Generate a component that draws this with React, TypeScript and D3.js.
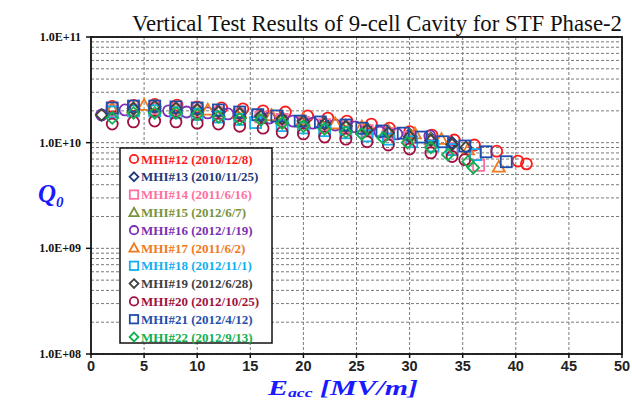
import React from "react";
import * as d3 from "d3";

// Accelerating gradient (MV/m) and Q0 (in units of 1e10) for each cavity
const e12 = [2, 4, 6, 8.1, 10, 12.3, 14.3, 16.2, 18.3, 20.4, 22.3, 24.1, 26.4, 28.1, 30, 32.1, 34.2, 36.1, 38.2, 40.2, 41];
const q12 = [2.2, 2.25, 2.3, 2.27, 2.18, 2.13, 2.09, 2.0, 1.95, 1.79, 1.71, 1.6, 1.5, 1.37, 1.27, 1.18, 1.06, 0.95, 0.83, 0.67, 0.63];

const e13 = [2, 4, 6, 8, 10, 12, 14, 16, 18, 20, 22, 24, 26, 28, 30, 32, 34];
const q13 = [2.05, 2.1, 2.12, 2.08, 2.05, 1.98, 1.9, 1.82, 1.72, 1.62, 1.55, 1.45, 1.36, 1.28, 1.2, 1.1, 1.0];

const e14 = [2, 4, 6, 8, 10, 12, 14, 16, 18, 20, 22, 24, 26, 28, 30, 32, 34, 36.5];
const q14 = [2.0, 2.05, 2.1, 2.05, 2.0, 1.92, 1.85, 1.75, 1.66, 1.56, 1.48, 1.4, 1.3, 1.22, 1.12, 1.02, 0.88, 0.61];

const e15 = [2, 4, 6, 8, 10, 12, 14, 16, 18, 20, 22, 24, 26, 28, 30, 32];
const q15 = [2.1, 2.15, 2.2, 2.12, 2.06, 1.98, 1.9, 1.8, 1.7, 1.6, 1.52, 1.43, 1.35, 1.26, 1.18, 1.08];

const e16 = [1, 3.2, 7.3, 9, 11, 12.9, 16.8, 19, 20.9, 23, 24.9, 27.2, 28.8, 31.9];
const q16 = [1.83, 2.04, 2.0, 1.95, 1.91, 1.87, 1.71, 1.6, 1.53, 1.47, 1.41, 1.26, 1.21, 1.16];

const e17 = [2, 5, 8, 11, 14, 17, 20, 23, 25.5, 28, 30.5, 33, 35.5, 38.4];
const q17 = [2.1, 2.27, 2.15, 2.05, 1.95, 1.82, 1.66, 1.52, 1.42, 1.3, 1.22, 1.08, 0.86, 0.59];

const e18 = [2, 4, 6, 8, 10, 12, 14, 15.5, 18, 20, 22, 24, 26, 28, 30.2, 32.2, 34, 36.2];
const q18 = [1.95, 2.0, 2.0, 1.92, 1.85, 1.75, 1.66, 1.55, 1.45, 1.38, 1.3, 1.24, 1.16, 1.08, 1.02, 0.93, 0.86, 0.77];

const e19 = [1, 4, 6, 8, 10, 12, 14, 16, 18, 20, 22, 24, 26, 28, 30, 32, 34, 35.3];
const q19 = [1.83, 2.1, 2.2, 2.12, 2.05, 1.96, 1.88, 1.78, 1.68, 1.58, 1.5, 1.42, 1.32, 1.24, 1.14, 1.05, 0.96, 0.9];

const e20 = [2, 4, 6, 8, 10, 12, 14, 16.2, 18, 20, 22, 24, 26, 28, 30, 32, 34, 35.2];
const q20 = [1.5, 1.57, 1.6, 1.57, 1.53, 1.5, 1.43, 1.37, 1.25, 1.21, 1.13, 1.08, 1.02, 0.95, 0.87, 0.8, 0.74, 0.69];

const e21 = [2, 4, 6, 8, 10, 12, 14, 15.7, 17.5, 19.7, 21.6, 24, 25.5, 27.4, 29.4, 31.1, 33.1, 35.2, 37.2, 39.1];
const q21 = [2.13, 2.22, 2.22, 2.18, 2.13, 2.04, 1.95, 1.84, 1.79, 1.6, 1.57, 1.47, 1.37, 1.29, 1.23, 1.13, 1.02, 0.93, 0.82, 0.66];

const e22 = [2, 4, 6, 8, 10, 12, 14, 16, 18, 20, 22, 24, 25.5, 27.5, 29.8, 32, 33.6, 35.5, 36];
const q22 = [1.71, 1.91, 1.91, 1.91, 1.84, 1.75, 1.68, 1.64, 1.53, 1.43, 1.35, 1.26, 1.21, 1.11, 1.0, 0.9, 0.77, 0.66, 0.58];

const labels = [
  "MHI#12 (2010/12/8)",
  "MHI#13 (2010/11/25)",
  "MHI#14 (2011/6/16)",
  "MHI#15 (2012/6/7)",
  "MHI#16 (2012/1/19)",
  "MHI#17 (2011/6/2)",
  "MHI#18 (2012/11/1)",
  "MHI#19 (2012/6/28)",
  "MHI#20 (2012/10/25)",
  "MHI#21 (2012/4/12)",
  "MHI#22 (2012/9/13)",
];
const colors = ["#ff1a1a", "#1f3a7a", "#ff6fa0", "#77933c", "#7a30b0", "#f07a20", "#12b0f0", "#404040", "#a01040", "#1f4eaa", "#10b050"];
const shapes = ["circle", "diamond", "square", "triangle", "circle", "triangle", "square", "diamond", "circle", "square", "diamond"];
const allE = [e12, e13, e14, e15, e16, e17, e18, e19, e20, e21, e22];
const allQ = [q12, q13, q14, q15, q16, q17, q18, q19, q20, q21, q22];

const xTicks = [0, 5, 10, 15, 20, 25, 30, 35, 40, 45, 50];
const yDecades = [1e8, 1e9, 1e10, 1e11];
const yTickLabels = ["1.0E+08", "1.0E+09", "1.0E+10", "1.0E+11"];

const W = 632;
const H = 401;
const plot = { left: 91, right: 622, top: 37, bottom: 354 };

function Marker({ shape, x, y, color, s = 5 }: { shape: string; x: number; y: number; color: string; s?: number }) {
  const common = { fill: "none", stroke: color, strokeWidth: 1.8 };
  if (shape === "circle") return <circle cx={x} cy={y} r={s} {...common} />;
  if (shape === "square") return <rect x={x - s} y={y - s} width={2 * s} height={2 * s} {...common} />;
  if (shape === "diamond") {
    const d = s * 1.05;
    return <path d={`M${x},${y - d}L${x + d},${y}L${x},${y + d}L${x - d},${y}Z`} {...common} />;
  }
  const t = s * 1.1;
  return <path d={`M${x},${y - t}L${x + t},${y + t * 0.8}L${x - t},${y + t * 0.8}Z`} {...common} />;
}

export default function App() {
  const x = d3.scaleLinear().domain([0, 50]).range([plot.left, plot.right]);
  const y = d3.scaleLog().domain([1e8, 1e11]).range([plot.bottom, plot.top]);

  const gridY: number[] = [];
  for (let d = 8; d <= 10; d++) {
    for (let k = 1; k <= 9; k++) gridY.push(k * Math.pow(10, d));
  }
  gridY.push(1e11);

  const legendX = 120;
  const legendY = 148;
  const rowH = 17.8;

  return (
    <svg width={W} height={H} style={{ position: "absolute", left: 0, top: 0, background: "#fff" }}>
      <rect x={0} y={0} width={W} height={H} fill="#fff" />
      {/* grid */}
      {gridY.map((v, i) => (
        <line key={"gy" + i} x1={plot.left} x2={plot.right} y1={y(v)} y2={y(v)} stroke="#7a7a7a" strokeWidth={1} strokeDasharray="3,2" />
      ))}
      {xTicks.slice(1, -1).map((t) => (
        <line key={"gx" + t} x1={x(t)} x2={x(t)} y1={plot.top} y2={plot.bottom} stroke="#7a7a7a" strokeWidth={1} strokeDasharray="3,2" />
      ))}
      {/* data */}
      {allE.map((es, si) =>
        es.map((e, i) => (
          <Marker key={si + "-" + i} shape={shapes[si]} x={x(e)} y={y(allQ[si][i] * 1e10)} color={colors[si]} s={5.5} />
        ))
      )}
      {/* frame */}
      <rect x={plot.left} y={plot.top} width={plot.right - plot.left} height={plot.bottom - plot.top} fill="none" stroke="#111" strokeWidth={1.8} />
      {yDecades.map((v) => (
        <line key={"yt" + v} x1={plot.left - 5} x2={plot.left} y1={y(v)} y2={y(v)} stroke="#111" strokeWidth={1.5} />
      ))}
      {xTicks.map((t) => (
        <line key={"xt" + t} x1={x(t)} x2={x(t)} y1={plot.bottom} y2={plot.bottom + 4} stroke="#111" strokeWidth={1.5} />
      ))}
      {/* y tick labels */}
      {yDecades.map((v, i) => (
        <text key={"yl" + v} x={plot.left - 10} y={y(v) + 4} textAnchor="end" fontFamily="Liberation Serif, serif" fontWeight="bold" fontSize={12} fill="#111">
          {yTickLabels[i]}
        </text>
      ))}
      {/* x tick labels */}
      {xTicks.map((t) => (
        <text key={"xl" + t} x={x(t)} y={371} textAnchor="middle" fontFamily="Liberation Sans, Arial, sans-serif" fontWeight="bold" fontSize={14.5} fill="#222">
          {t}
        </text>
      ))}
      {/* title */}
      <text x={132} y={31} fontFamily="Liberation Serif, serif" fontSize={23} fill="#111" textLength={490} lengthAdjust="spacingAndGlyphs">
        Vertical Test Results of 9-cell Cavity for STF Phase-2
      </text>
      {/* axis titles */}
      <text x={38} y={202} fontFamily="Liberation Serif, serif" fontStyle="italic" fontWeight="bold" fontSize={25} fill="#1a1aff">
        Q<tspan fontSize={15} dy={5}>0</tspan>
      </text>
      <text x={268} y={395} fontFamily="Liberation Serif, serif" fontStyle="italic" fontWeight="bold" fontSize={22} fill="#1a1aff" textLength={150} lengthAdjust="spacingAndGlyphs">
        E<tspan fontSize={13} dy={2}>acc</tspan>
        <tspan dy={-2}> [MV/m]</tspan>
      </text>
      {/* legend */}
      <rect x={legendX} y={legendY} width={152} height={195} fill="#fff" stroke="#111" strokeWidth={1.5} />
      {labels.map((lab, i) => {
        const cy = legendY + 11 + i * rowH;
        return (
          <g key={"lg" + i}>
            <Marker shape={shapes[i]} x={legendX + 14} y={cy} color={colors[i]} s={4.2} />
            <text x={legendX + 21} y={cy + 4.5} fontFamily="Liberation Serif, serif" fontWeight="bold" fontSize={13} fill={colors[i]}>
              {lab}
            </text>
          </g>
        );
      })}
    </svg>
  );
}
